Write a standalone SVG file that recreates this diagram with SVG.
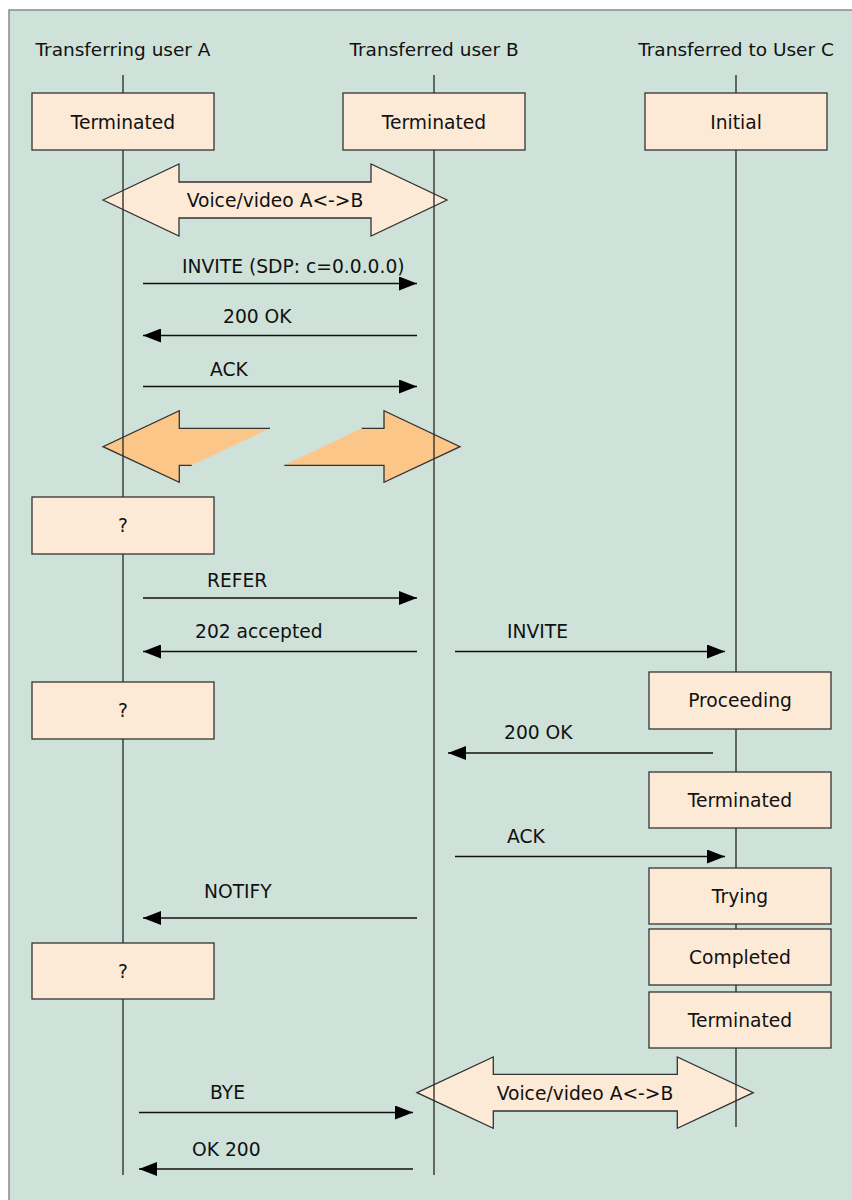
<svg xmlns="http://www.w3.org/2000/svg" width="852" height="1200" viewBox="0 0 852 1200">
  <style>
    text { font-family: "DejaVu Sans", Verdana, sans-serif; font-size: 18.7px; fill: #111; }
    .hdr { font-size: 18.5px; text-anchor: middle; }
    .lbl { text-anchor: middle; }
    .state { fill: #FDEAD6; stroke: #333; stroke-width: 1.3; }
    .life { stroke: #333; stroke-width: 1.4; fill: none; }
    .msg { stroke: #111; stroke-width: 1.5; fill: none; marker-end: url(#head); }
    .bigarrow { fill: #FDEAD6; stroke: #333; stroke-width: 1.3; }
    .held { fill: #FCC689; stroke: none; }
    .heldedge { fill: none; stroke: #333; stroke-width: 1.3; stroke-linejoin: miter; }
  </style>
  <defs>
    <marker id="head" markerUnits="userSpaceOnUse" markerWidth="18" markerHeight="14" refX="18" refY="7" orient="auto">
      <path d="M0,0 L18,7 L0,14 z" fill="#000"/>
    </marker>
  </defs>

  <!-- page -->
  <rect x="0" y="0" width="852" height="1200" fill="#ffffff"/>
  <rect x="9" y="10" width="860" height="1210" fill="#CEE2D9" stroke="#8a8a8a" stroke-width="1.5"/>

  <!-- party headers -->
  <g id="headers">
    <text class="hdr" x="123" y="56">Transferring user A</text>
    <text class="hdr" x="434" y="56">Transferred user B</text>
    <text class="hdr" x="736" y="56">Transferred to User C</text>
  </g>

  <!-- media streams -->
  <g id="media-ab-1">
    <polygon class="bigarrow" points="103,200 179,164 179,182 371,182 371,164 447,200 371,236 371,218 179,218 179,236"/>
    <text class="lbl" x="275" y="207">Voice/video A&lt;-&gt;B</text>
  </g>
  <g id="media-held">
    <polygon class="held" points="103,446.7 179.3,410.7 179.3,428.3 270,428.3 191.7,465.3 179.3,465.3 179.3,482.3"/>
    <polyline class="heldedge" points="191.7,465.3 179.3,465.3 179.3,482.3 103,446.7 179.3,410.7 179.3,428.3 270,428.3"/>
    <polygon class="held" points="284.3,465.3 361.7,428.3 384,428.3 384,410.7 460,446.7 384,482.3 384,465.3"/>
    <polyline class="heldedge" points="361.7,428.3 384,428.3 384,410.7 460,446.7 384,482.3 384,465.3 284.3,465.3"/>
  </g>
  <g id="media-ab-2">
    <polygon class="bigarrow" points="417,1092.7 493.3,1057 493.3,1074.4 677.3,1074.4 677.3,1057 753.3,1092.7 677.3,1128.3 677.3,1111 493.3,1111 493.3,1128.3"/>
    <text class="lbl" x="585" y="1100">Voice/video A&lt;-&gt;B</text>
  </g>

  <!-- lifelines -->
  <g id="lifelines">
    <line class="life" x1="123" y1="75" x2="123" y2="1175"/>
    <line class="life" x1="434" y1="75" x2="434" y2="1175"/>
    <line class="life" x1="736" y1="75" x2="736" y2="1127"/>
  </g>

  <!-- states of A -->
  <g id="a-terminated">
    <rect class="state" x="32" y="93" width="182" height="57"/>
    <text class="lbl" x="123" y="129">Terminated</text>
  </g>
  <g id="a-state-1">
    <rect class="state" x="32" y="497" width="182" height="57"/>
    <text class="lbl" x="123" y="532">?</text>
  </g>
  <g id="a-state-2">
    <rect class="state" x="32" y="682" width="182" height="57"/>
    <text class="lbl" x="123" y="717">?</text>
  </g>
  <g id="a-state-3">
    <rect class="state" x="32" y="943" width="182" height="56"/>
    <text class="lbl" x="123" y="978">?</text>
  </g>

  <!-- states of B -->
  <g id="b-terminated">
    <rect class="state" x="343" y="93" width="182" height="57"/>
    <text class="lbl" x="434" y="129">Terminated</text>
  </g>

  <!-- states of C -->
  <g id="c-initial">
    <rect class="state" x="645" y="93" width="182" height="57"/>
    <text class="lbl" x="736" y="129">Initial</text>
  </g>
  <g id="c-proceeding">
    <rect class="state" x="649" y="672" width="182" height="57"/>
    <text class="lbl" x="740" y="707">Proceeding</text>
  </g>
  <g id="c-terminated-1">
    <rect class="state" x="649" y="772" width="182" height="56"/>
    <text class="lbl" x="740" y="807">Terminated</text>
  </g>
  <g id="c-trying">
    <rect class="state" x="649" y="868" width="182" height="56"/>
    <text class="lbl" x="740" y="903">Trying</text>
  </g>
  <g id="c-completed">
    <rect class="state" x="649" y="929" width="182" height="56"/>
    <text class="lbl" x="740" y="964">Completed</text>
  </g>
  <g id="c-terminated-2">
    <rect class="state" x="649" y="992" width="182" height="56"/>
    <text class="lbl" x="740" y="1027">Terminated</text>
  </g>

  <!-- messages -->
  <g id="messages">
    <line class="msg" x1="143" y1="283.5" x2="417" y2="283.5"/>
    <text x="182" y="273">INVITE (SDP: c=0.0.0.0)</text>

    <line class="msg" x1="417" y1="335.5" x2="143" y2="335.5"/>
    <text x="223" y="323">200 OK</text>

    <line class="msg" x1="143" y1="386.5" x2="417" y2="386.5"/>
    <text x="210" y="376">ACK</text>

    <line class="msg" x1="143" y1="598" x2="417" y2="598"/>
    <text x="207" y="587">REFER</text>

    <line class="msg" x1="417" y1="651.5" x2="143" y2="651.5"/>
    <text x="195" y="638">202 accepted</text>

    <line class="msg" x1="455" y1="651.5" x2="725" y2="651.5"/>
    <text x="507" y="638">INVITE</text>

    <line class="msg" x1="713" y1="753" x2="448" y2="753"/>
    <text x="504" y="739">200 OK</text>

    <line class="msg" x1="455" y1="856.5" x2="725" y2="856.5"/>
    <text x="507" y="843">ACK</text>

    <line class="msg" x1="417" y1="918" x2="143" y2="918"/>
    <text x="204" y="898">NOTIFY</text>

    <line class="msg" x1="139" y1="1112.5" x2="413" y2="1112.5"/>
    <text x="210" y="1099">BYE</text>

    <line class="msg" x1="413" y1="1169" x2="139" y2="1169"/>
    <text x="192" y="1156">OK 200</text>
  </g>
</svg>
